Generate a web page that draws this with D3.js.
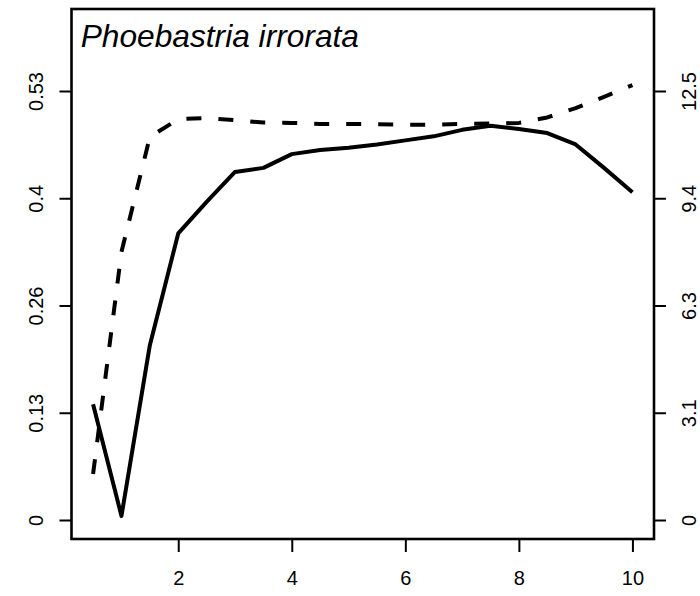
<!DOCTYPE html>
<html>
<head>
<meta charset="utf-8">
<script src="https://cdn.jsdelivr.net/npm/d3@7"></script>
<style>
  html, body { margin: 0; padding: 0; background: #fff; }
  svg { display: block; font-family: "Liberation Sans", Arial, Helvetica, sans-serif; }
</style>
</head>
<body>
<svg id="chart"></svg>
<script>
const title = "Phoebastria irrorata"
// x positions shared by both series
const xs = [0.5, 1, 1.5, 2, 2.5, 3, 3.5, 4, 4.5, 5, 5.5, 6, 6.5, 7, 7.5, 8, 8.5, 9, 9.5, 10]
// solid line, left axis
const solidVals = [0.143, 0.005, 0.216, 0.354, 0.393, 0.430, 0.435, 0.452, 0.457, 0.460,
    0.464, 0.469, 0.474, 0.482, 0.487, 0.483, 0.478, 0.464, 0.435, 0.405]
// dashed line, right axis
const dashedVals = [1.34, 7.81, 11.16, 11.68, 11.71, 11.65, 11.58, 11.57, 11.54, 11.54,
    11.53, 11.52, 11.52, 11.54, 11.55, 11.57, 11.73, 12.0, 12.33, 12.67]
const xTicks = [2, 4, 6, 8, 10]
const leftTicks = [0, 0.1325, 0.265, 0.3975, 0.53]
const leftLabels = ["0", "0.13", "0.26", "0.4", "0.53"]
const rightTicks = [0, 3.125, 6.25, 9.375, 12.5]
const rightLabels = ["0", "3.1", "6.3", "9.4", "12.5"]

const w = 700
const h = 596
const margin = { top: 9, right: 46, bottom: 57, left: 71.5 }
const width = w - margin.left - margin.right
const height = h - margin.top - margin.bottom
const labelSize = "20px"

const x = d3.scaleLinear()
    .domain([0.12, 10.38])
    .range([0, width])
const yL = d3.scaleLinear()
    .domain([-0.02347, 0.6313])
    .range([height, 0])
const yR = d3.scaleLinear()
    .domain([-0.5536, 14.889])
    .range([height, 0])

const svg = d3.select("#chart")
    .attr("width", w)
    .attr("height", h)
const chart = svg.append("g")
    .attr("transform", `translate(${margin.left}, ${margin.top})`)

// lines
const solidLine = d3.line()
    .x((d, i) => x(xs[i]))
    .y(d => yL(d))
const dashedLine = d3.line()
    .x((d, i) => x(xs[i]))
    .y(d => yR(d))

chart.append("path")
    .datum(dashedVals)
    .attr("d", dashedLine)
    .attr("fill", "none")
    .attr("stroke", "#000")
    .attr("stroke-width", 4)
    .attr("stroke-dasharray", "15,17")
    .attr("stroke-linejoin", "round")

chart.append("path")
    .datum(solidVals)
    .attr("d", solidLine)
    .attr("fill", "none")
    .attr("stroke", "#000")
    .attr("stroke-width", 4)
    .attr("stroke-linejoin", "round")

// axes
const xAxis = chart.append("g")
    .attr("transform", `translate(0, ${height})`)
    .call(d3.axisBottom(x).tickValues(xTicks).tickSize(13).tickPadding(19).tickFormat(d3.format("d")))
const leftAxis = chart.append("g")
    .call(d3.axisLeft(yL).tickValues(leftTicks).tickSize(12)
        .tickFormat((d, i) => leftLabels[i]))
const rightAxis = chart.append("g")
    .attr("transform", `translate(${width}, 0)`)
    .call(d3.axisRight(yR).tickValues(rightTicks).tickSize(12)
        .tickFormat((d, i) => rightLabels[i]))

chart.selectAll(".domain").remove()
chart.selectAll(".tick line").attr("stroke", "#000").attr("stroke-width", 2)
chart.selectAll(".tick text")
    .attr("fill", "#000")
    .style("font-size", labelSize)
    .style("font-family", "'Liberation Sans', Arial, sans-serif")

leftAxis.selectAll(".tick text")
    .attr("transform", "rotate(-90)")
    .attr("x", 0)
    .attr("y", -28.8)
    .attr("dy", 0)
    .style("text-anchor", "middle")
rightAxis.selectAll(".tick text")
    .attr("transform", "rotate(-90)")
    .attr("x", 0)
    .attr("y", 42)
    .attr("dy", 0)
    .style("text-anchor", "middle")

// box
chart.append("rect")
    .attr("x", 0)
    .attr("y", 0)
    .attr("width", width)
    .attr("height", height)
    .attr("fill", "none")
    .attr("stroke", "#000")
    .attr("stroke-width", 2.6)

chart.append("text")
    .attr("x", 9.2)
    .attr("y", 37.7)
    .attr("font-size", 31.7)
    .style("font-style", "italic")
    .text(title)
</script>
</body>
</html>
